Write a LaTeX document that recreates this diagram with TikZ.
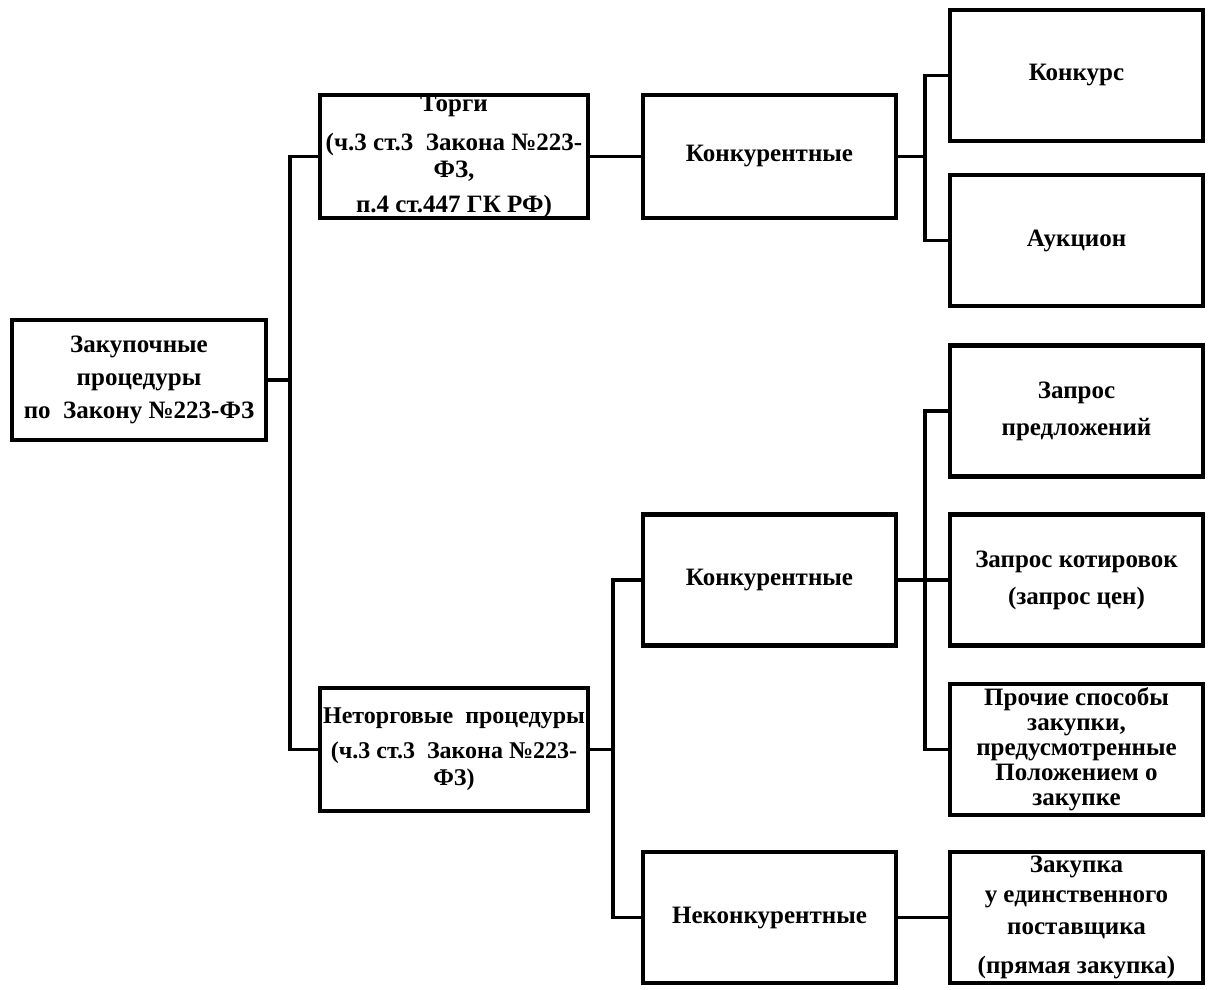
\documentclass[tikz,border=0pt]{standalone}
\usepackage{fontspec}
\setmainfont{Liberation Serif}
\usepackage{tikz}

\begin{document}
\begin{tikzpicture}[x=1pt, y=-1pt,
    box/.style={draw, line width=4.5pt, inner sep=0pt, align=center,
      minimum width=253pt, minimum height=131pt,
      font=\fontsize{25}{27}\selectfont\bfseries},
    link/.style={line width=3.8pt}]
  \useasboundingbox (0,0) rectangle (1215,989);
  \node[box, minimum width=254pt, minimum height=120pt] (root) at (139,380)
    {Закупочные\\[6pt] процедуры\\[6pt] по~ Закону №223-ФЗ};
  \node[box, minimum width=268pt, minimum height=123pt] (torgi) at (454,156.5)
    {Торги\\[12pt] (ч.3 ст.3~ Закона №223-\\ ФЗ,\\[8pt] п.4 ст.447 ГК РФ)};
  \node[box, minimum width=268pt, minimum height=123pt,
    font=\fontsize{24}{27}\selectfont\bfseries] (neto) at (454,749.5)
    {Неторговые~ процедуры\\[8pt] (ч.3 ст.3~ Закона №223-\\ ФЗ)};
  \node[box, minimum height=123pt] (konkA) at (769.5,156.5) {Конкурентные};
  \node[box] (konkB) at (769.5,580) {Конкурентные};
  \node[box] (nekonk) at (769.5,917.5) {Неконкурентные};
  \node[box] (konkurs) at (1076.5,75.5) {Конкурс};
  \node[box] (aukcion) at (1076.5,240.5) {Аукцион};
  \node[box] (zapred) at (1076.5,411) {Запрос\\[10pt] предложений};
  \node[box] (zakot) at (1076.5,580) {Запрос котировок\\[10pt] (запрос цен)};
  \node[box, font=\fontsize{25}{25}\selectfont\bfseries] (prochie) at (1076.5,749.5)
    {Прочие способы\\ закупки,\\ предусмотренные\\ Положением о\\ закупке};
  \node[box] (edinst) at (1076.5,917.5)
    {Закупка\\[3pt] у единственного\\[5pt] поставщика\\[12pt] (прямая закупка)};
  \draw[link] (root.east) -- +(22,0) |- (torgi.west);
  \draw[link] (root.east) -- +(22,0) |- (neto.west);
  \draw[link] (torgi) -- (konkA);
  \draw[link] (konkA.east) -- +(27,0) |- (konkurs.west);
  \draw[link] (konkA.east) -- +(27,0) |- (aukcion.west);
  \draw[link] (neto.east) -- +(23,0) |- (konkB.west);
  \draw[link] (neto.east) -- +(23,0) |- (nekonk.west);
  \draw[link] (konkB.east) -- +(27,0) |- (zapred.west);
  \draw[link] (konkB) -- (zakot);
  \draw[link] (konkB.east) -- +(27,0) |- (prochie.west);
  \draw[link] (nekonk) -- (edinst);
\end{tikzpicture}
\end{document}
